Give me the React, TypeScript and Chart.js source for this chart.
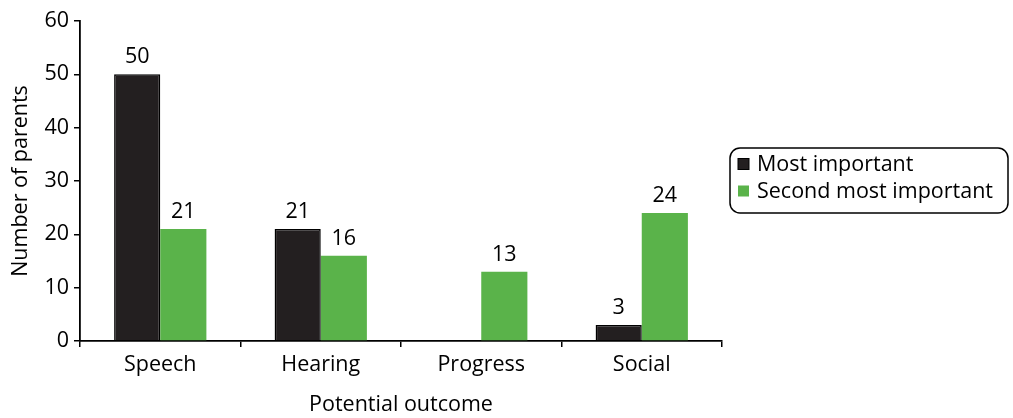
import React, { useEffect, useRef } from "react";
import { Chart, registerables } from "chart.js";

Chart.register(...registerables);

const categories = ["Speech", "Hearing", "Progress", "Social"];
const mostImportant = [50, 21, 0, 3];
const secondMostImportant = [21, 16, 13, 24];
const seriesNames = ["Most important", "Second most important"];
const yTicks = [0, 10, 20, 30, 40, 50, 60];

const FONT = "'Open Sans', 'Noto Sans', sans-serif";
const FONT_SIZE = 21.5;
const DARK = "#231f20";
const GREEN = "#5ab34a";

// Value printed above each non-zero bar
const valueLabels = {
  id: "valueLabels",
  afterDatasetsDraw(chart: any) {
    const ctx = chart.ctx;
    ctx.save();
    ctx.fillStyle = "#000";
    ctx.font = `${FONT_SIZE}px ${FONT}`;
    ctx.textAlign = "center";
    ctx.textBaseline = "alphabetic";
    chart.data.datasets.forEach((ds: any, i: number) => {
      const meta = chart.getDatasetMeta(i);
      meta.data.forEach((bar: any, j: number) => {
        const v = ds.data[j];
        if (!v) return;
        ctx.fillText(String(v), bar.x, bar.y - 11);
      });
    });
    ctx.restore();
  },
};

// Legend inside a rounded frame to the right of the plot
const boxedLegend = {
  id: "boxedLegend",
  afterDraw(chart: any) {
    const ctx = chart.ctx;
    const x = 730, y = 148, w = 278, h = 65, r = 10;
    ctx.save();
    ctx.lineWidth = 1.5;
    ctx.strokeStyle = "#000";
    ctx.beginPath();
    ctx.roundRect(x, y, w, h, r);
    ctx.stroke();
    const colors = [DARK, GREEN];
    ctx.font = `${FONT_SIZE}px ${FONT}`;
    ctx.textBaseline = "middle";
    ctx.textAlign = "left";
    seriesNames.forEach((name, i) => {
      const cy = y + 16 + i * 27;
      ctx.fillStyle = colors[i];
      ctx.fillRect(x + 8, cy - 5.5, 11, 11);
      if (i === 0) {
        ctx.strokeStyle = "#000";
        ctx.lineWidth = 1;
        ctx.strokeRect(x + 8, cy - 5.5, 11, 11);
      }
      ctx.fillStyle = "#000";
      ctx.fillText(name, x + 27, cy + 1);
    });
    ctx.restore();
  },
};

export default function App() {
  const ref = useRef<HTMLCanvasElement>(null);

  useEffect(() => {
    if (!ref.current) return;
    const chart = new Chart(ref.current, {
      type: "bar",
      data: {
        labels: categories,
        datasets: [
          {
            label: seriesNames[0],
            data: mostImportant,
            backgroundColor: DARK,
            borderColor: "#000",
            borderWidth: 1.5,
            categoryPercentage: 0.575,
            barPercentage: 1,
          },
          {
            label: seriesNames[1],
            data: secondMostImportant,
            backgroundColor: GREEN,
            borderWidth: 0,
            categoryPercentage: 0.575,
            barPercentage: 1,
          },
        ],
      },
      options: {
        responsive: false,
        animation: false,
        layout: { padding: { top: 21, right: 291, left: 0, bottom: 0 } },
        plugins: { legend: { display: false }, tooltip: { enabled: false } },
        scales: {
          x: {
            afterFit: (s: any) => {
              s.height = 77;
            },
            grid: {
              display: true,
              offset: true,
              drawOnChartArea: false,
              drawTicks: true,
              tickLength: 6,
              color: "#000",
              lineWidth: 1.5,
            },
            border: { display: true, color: "#000", width: 1.8 },
            ticks: { color: "#000", font: { family: FONT, size: FONT_SIZE }, padding: 5 },
            title: {
              display: true,
              text: "Potential outcome",
              color: "#000",
              font: { family: FONT, size: FONT_SIZE },
              padding: { top: 0, bottom: 0 },
            },
          },
          y: {
            min: 0,
            max: 60,
            afterFit: (s: any) => {
              s.width = 80;
            },
            afterBuildTicks: (s: any) => {
              s.ticks = yTicks.map((v) => ({ value: v }));
            },
            grid: {
              display: true,
              drawOnChartArea: false,
              drawTicks: true,
              tickLength: 6,
              color: "#000",
              lineWidth: 1.5,
            },
            border: { display: true, color: "#000", width: 1.8 },
            ticks: { color: "#000", font: { family: FONT, size: FONT_SIZE }, padding: 5 },
            title: {
              display: true,
              text: "Number of parents",
              color: "#000",
              font: { family: FONT, size: FONT_SIZE },
              padding: { top: 8, bottom: 0 },
            },
          },
        },
      },
      plugins: [valueLabels, boxedLegend],
    });
    return () => chart.destroy();
  }, []);

  return (
    <div style={{ position: "fixed", left: 0, top: 0, width: 1013, height: 418, background: "#fff" }}>
      <canvas ref={ref} width={1013} height={418} />
    </div>
  );
}
